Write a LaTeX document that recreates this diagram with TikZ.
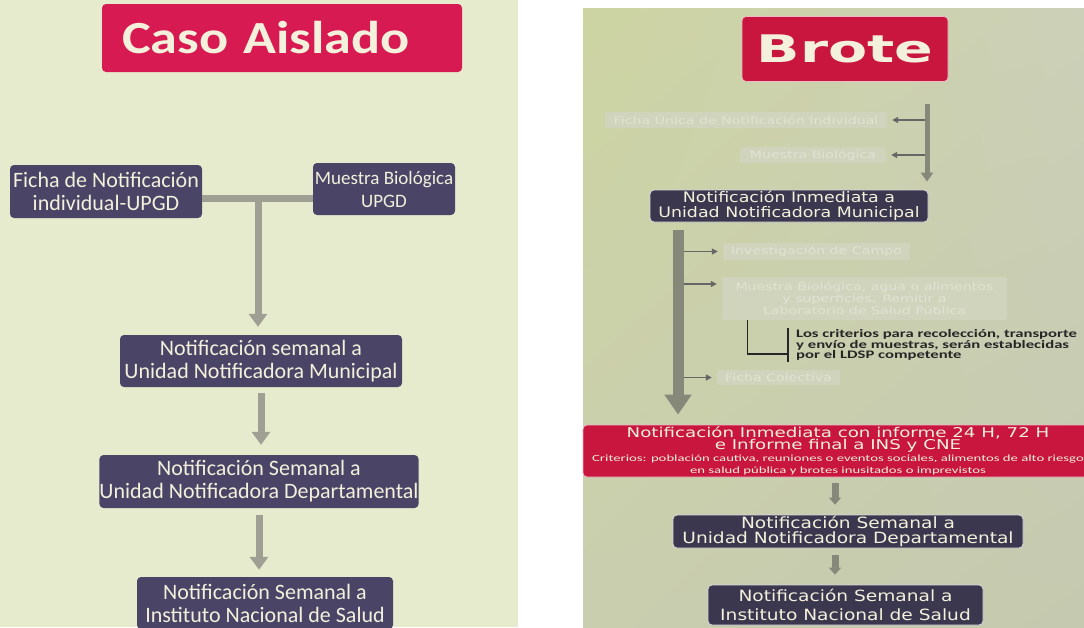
\documentclass[tikz,border=0pt]{standalone}
\usepackage{fontspec}
\setmainfont{Carlito}
\newfontfamily\ltitle[FakeStretch=1.18]{Carlito}
\newfontfamily\rsans[FakeStretch=1.2]{DejaVu Sans}
\newfontfamily\rwide[FakeStretch=1.35]{DejaVu Sans}
\newfontfamily\rtitle[FakeStretch=1.5]{DejaVu Sans}
\newfontfamily\rcal[FakeStretch=1.45]{Carlito}
\newfontfamily\rcalw[FakeStretch=1.55]{Carlito}
\usetikzlibrary{arrows.meta, shadings}

\definecolor{leftbg}{HTML}{E6EBCD}
\definecolor{bgUL}{HTML}{CDD4A2}
\definecolor{bgUR}{HTML}{CCD0B8}
\definecolor{bgLL}{HTML}{C9CEAF}
\definecolor{bgLR}{HTML}{C5C9AF}
\definecolor{crimson}{HTML}{D71A52}
\definecolor{crimsonB}{HTML}{C8163F}
\definecolor{plum}{HTML}{4A4566}
\definecolor{plumB}{HTML}{3A374F}
\definecolor{cream}{HTML}{F3F0DC}
\definecolor{greyline}{HTML}{A09F94}
\definecolor{greylineB}{HTML}{86887A}
\definecolor{fadebox}{HTML}{D0D4BD}
\definecolor{fadetext}{HTML}{E0E3D3}

\tikzset{
  redbox/.style={fill=crimson, rounded corners=4pt, text=cream, inner sep=0pt},
  darkbox/.style={fill=plum, rounded corners=4pt, text=cream, align=center, inner sep=0pt,
    font=\fontsize{22}{23}\selectfont},
  darkboxB/.style={fill=plumB, draw=white!80!plumB, line width=0.8pt, rounded corners=4pt,
    text=cream, align=center, inner sep=0pt, font=\rsans\fontsize{14.5}{15}\selectfont},
  fadedbox/.style={fill=fadebox, rounded corners=2pt, text=fadetext, align=center, inner sep=0pt,
    font=\rwide\fontsize{10.5}{12}\selectfont},
  connector/.style={draw=greyline, line width=7pt},
  arrowL/.style={draw=greyline, line width=7pt, -{Triangle[width=18pt,length=13pt]}},
  arrowV/.style={draw=greylineB, line width=5pt, -{Triangle[width=12pt,length=9pt]}},
  arrowBig/.style={draw=greylineB, line width=11pt, -{Triangle[width=26pt,length=20pt]}},
  arrowThin/.style={draw=black!60, line width=1.8pt, -{Triangle[width=6pt,length=6pt]}},
  arrowSmall/.style={draw=greylineB, line width=7pt, -{Triangle[width=12pt,length=7pt]}},
  bracket/.style={draw=black!85, line width=1.3pt}
}
\newcommand{\infbig}[1]{{\rwide\fontsize{13.5}{12}\selectfont #1}}
\newcommand{\infsmall}[1]{{\rcalw\fontsize{9.5}{9.5}\selectfont #1}}

\begin{document}
\begin{tikzpicture}[x=1pt, y=-1pt]
  \useasboundingbox (0,0) rectangle (1084,627);
  \clip (0,0) rectangle (1084,627);
  % Panels
  \fill[leftbg] (0,0) rectangle (518,627);
  \shade[upper left=bgUL, upper right=bgUR, lower left=bgLL, lower right=bgLR] (583,8) rectangle (1084,627);

  % Caso aislado: nodes
  \node[redbox, minimum width=360pt, minimum height=68pt, text width=320pt, align=left, font=\ltitle\bfseries\fontsize{46}{50}\selectfont] (casoTitle) at (282,38) {Caso Aislado};
  \node[darkbox, minimum width=192pt, minimum height=53pt] (fichaInd) at (106,191.5) {Ficha de Notificación\\individual-UPGD};
  \node[darkbox, minimum width=142pt, minimum height=52pt, font=\fontsize{19}{23}\selectfont] (muestraBio) at (384,189) {Muestra Biológica\\UPGD};
  \node[darkbox, minimum width=282pt, minimum height=52pt] (notMun) at (261,361) {Notificación semanal a\\Unidad Notificadora Municipal};
  \node[darkbox, minimum width=318pt, minimum height=53pt] (notDep) at (259,481.5) {Notificación Semanal a\\Unidad Notificadora Departamental};
  \node[darkbox, minimum width=256pt, minimum height=52pt] (notINS) at (265,603) {Notificación Semanal a\\Instituto Nacional de Salud};

  % Caso aislado: edges
  \coordinate (junction) at (258,198);
  \draw[connector] (fichaInd.east |- junction) -- (muestraBio.west |- junction);
  \draw[arrowL, shorten >=8pt] (junction) -- (junction |- notMun.north);
  \draw[arrowL, shorten <=6pt, shorten >=10pt] (notMun.south) -- (notMun.south |- notDep.north);
  \draw[arrowL, shorten <=7pt, shorten >=7pt] (notDep.south) -- (notDep.south |- notINS.north);

  % Brote: nodes
  \node[redbox, fill=crimsonB, draw=white!70!crimsonB, line width=0.8pt, minimum width=206pt, minimum height=65pt, font=\rtitle\bfseries\fontsize{38}{42}\selectfont] (broteTitle) at (845,49) {Brote};
  \node[fadedbox, minimum width=282pt, minimum height=16pt] (fichaUnica) at (746,120) {Ficha Única de Notificación Individual};
  \node[fadedbox, minimum width=146pt, minimum height=16pt] (muestraB) at (813,155) {Muestra Biológica};
  \node[darkboxB, minimum width=278pt, minimum height=32pt] (notInm) at (789,206) {Notificación Inmediata a\\Unidad Notificadora Municipal};
  \node[fadedbox, minimum width=187pt, minimum height=17pt] (investig) at (816.5,251.5) {Investigación de Campo};
  \node[fadedbox, minimum width=285pt, minimum height=43pt] (muestraAgua) at (864.5,298.5) {Muestra Biológica, agua o alimentos\\y superficies. Remitir a\\Laboratorio de Salud Pública};
  \node[anchor=west, align=left, inner xsep=8pt, inner ysep=1pt, text=black!85, font=\rcal\bfseries\fontsize{11.5}{10.5}\selectfont] (criterios) at (788,345) {Los criterios para recolección, transporte\\y envío de muestras, serán establecidas\\por el LDSP competente};
  \node[fadedbox, minimum width=123pt, minimum height=15pt] (fichaCol) at (778.5,377.5) {Ficha Colectiva};
  \node[redbox, fill=crimsonB, draw=white!70!crimsonB, line width=0.8pt, minimum width=510pt, minimum height=52pt, align=center] (informe) at (838,451) {\infbig{Notificación Inmediata con informe 24 H, 72 H}\\\infbig{e Informe final a INS y CNE}\\\infsmall{Criterios: población cautiva, reuniones o eventos sociales, alimentos de alto riesgo}\\\infsmall{en salud pública y brotes inusitados o imprevistos}};
  \node[darkboxB, minimum width=350pt, minimum height=33pt, font=\rsans\fontsize{15.5}{15}\selectfont] (notDepB) at (848,531.5) {Notificación Semanal a\\Unidad Notificadora Departamental};
  \node[darkboxB, minimum width=275pt, minimum height=40pt, font=\rsans\fontsize{15.5}{19}\selectfont] (notINSB) at (845.5,605) {Notificación Semanal a\\Instituto Nacional de Salud};

  % Brote: edges
  \coordinate (vtop) at (927,104);
  \draw[arrowThin, shorten >=5pt] (vtop |- fichaUnica.east) -- (fichaUnica.east);
  \draw[arrowThin, shorten >=5pt] (vtop |- muestraB.east) -- (muestraB.east);
  \draw[arrowV, shorten >=8pt] (vtop) -- (vtop |- notInm.north);
  \coordinate (btop) at (678,230);
  \draw[arrowThin, shorten >=5pt] (btop |- investig.west) -- (investig.west);
  \draw[arrowThin, shorten >=5pt] (btop |- 0,284) -- (muestraAgua.west |- 0,284);
  \draw[arrowThin, shorten >=5pt] (btop |- fichaCol.west) -- (fichaCol.west);
  \draw[arrowBig, shorten >=10pt] (btop) -- (btop |- informe.north);
  \draw[bracket] ([xshift=26pt]muestraAgua.south west) |- (criterios.west |- 0,354);
  \draw[bracket] (criterios.north west) -- (criterios.south west);
  \coordinate (sx) at (835,0);
  \draw[arrowSmall, shorten <=6pt, shorten >=10pt] (informe.south -| sx) -- (notDepB.north -| sx);
  \draw[arrowSmall, shorten <=7pt, shorten >=10pt] (notDepB.south -| sx) -- (notINSB.north -| sx);
\end{tikzpicture}
\end{document}
